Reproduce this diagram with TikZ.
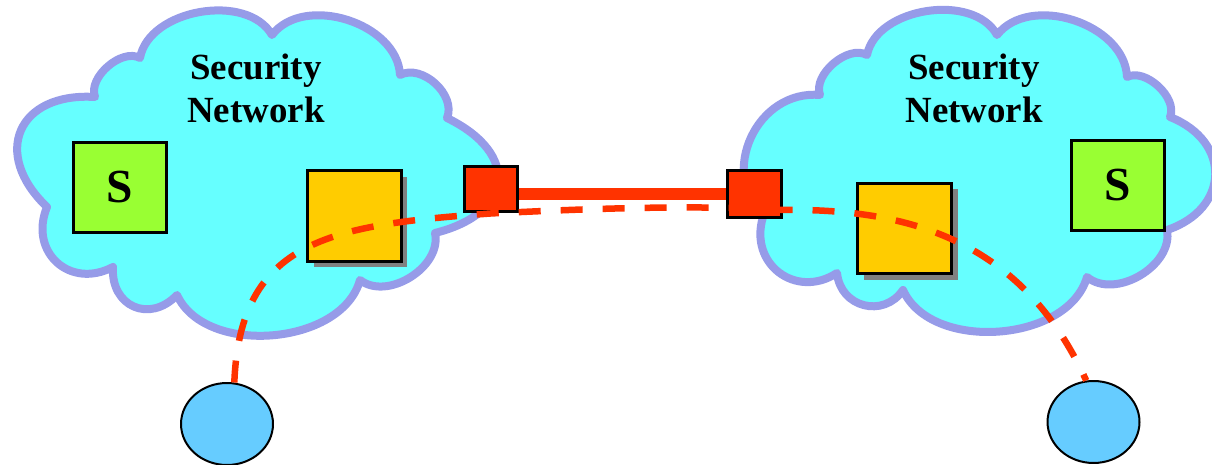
\documentclass[tikz,border=0pt]{standalone}
\usepackage{fontspec}
\setmainfont{Liberation Serif}
\usetikzlibrary{shapes.geometric,shadows,backgrounds}

\definecolor{cloudcyan}{HTML}{66FFFF}
\definecolor{cloudrim}{RGB}{150,155,232}
\definecolor{srvgreen}{HTML}{99FF33}
\definecolor{agentyellow}{HTML}{FFCC00}
\definecolor{gwred}{HTML}{FF3300}
\definecolor{hostblue}{HTML}{66CCFF}

\begin{document}
\begin{tikzpicture}[x=0.02cm,y=-0.02cm,
  puff/.style={bend left=70,looseness=#1}]
\tikzstyle{every node}=[font=\bfseries]
\tikzstyle{cloud line}=[draw=cloudrim, line width=0.16cm, fill=cloudcyan, line join=round]
\tikzstyle{title}=[align=center, font=\fontsize{21}{24.4}\selectfont\bfseries]
\tikzstyle{server}=[draw, line width=0.06cm, fill=srvgreen, inner sep=0pt,
  minimum width=1.86cm, minimum height=1.8cm, font=\fontsize{27}{30}\selectfont\bfseries]
\tikzstyle{agent}=[draw, line width=0.06cm, fill=agentyellow, inner sep=0pt,
  minimum width=1.88cm, minimum height=1.82cm,
  drop shadow={shadow xshift=0.12cm, shadow yshift=-0.12cm, fill=gray, opacity=1}]
\tikzstyle{gateway}=[draw, line width=0.06cm, fill=gwred, inner sep=0pt]
\tikzstyle{host}=[ellipse, draw, line width=0.04cm, fill=hostblue, inner sep=0pt,
  minimum width=1.84cm, minimum height=1.64cm]
\tikzstyle{link}=[gwred, line width=0.24cm]
\tikzstyle{tunnel}=[gwred, line width=0.13cm, dash pattern=on 0.44cm off 0.4cm]

\useasboundingbox (0,0) rectangle (1212,465);

\node[title] (titleL) at (256,88) {Security\\Network};
\node[title] (titleR) at (974,88) {Security\\Network};

\node[server] (srvL) at (120,187.5) {S};
\node[server] (srvR) at (1118,185.5) {S};
\node[agent] (agtL) at (354.5,216) {};
\node[agent] (agtR) at (904.5,228.5) {};
\node[gateway, minimum width=1.06cm, minimum height=0.92cm] (gwL) at (490.5,189) {};
\node[gateway, minimum width=1.08cm, minimum height=0.96cm] (gwR) at (754,194) {};
\node[host] (host1) at (227,424) {};
\node[host] (host2) at (1093.5,422) {};
\coordinate (bend) at (780,210);

\begin{pgfonlayer}{background}
\draw[cloud line] (47,207) to[puff=1.65] (95,97) to[puff=0.9] (140,58)
  to[puff=0.95] (272,35) to[puff=1.0] (400,75) to[puff=1.0] (447,118)
  to[puff=1.8] (435,233) to[puff=1.0] (360,280) to[puff=0.95] (177,295)
  to[puff=1.45] (113,267) to[puff=1.4] (47,207) -- cycle;
\draw[cloud line] (763,217) to[puff=1.2] (820,95) to[puff=0.9] (867,55)
  to[puff=0.95] (997,35) to[puff=1.0] (1127,77) to[puff=0.9] (1170,117)
  to[puff=1.5] (1167,230) to[puff=1.0] (1087,277) to[puff=0.95] (903,290)
  to[puff=1.3] (837,273) to[puff=1.35] (763,217) -- cycle;
\draw[link] (gwR.center) -- (gwR.center -| gwL.east);
\end{pgfonlayer}

\draw[tunnel] (host1.80) .. controls (240,240) and (330,225) .. (gwL.south)
  .. controls (600,208) and (700,205) .. (bend)
  .. controls (900,208) and (1020,235) .. (host2.100);

\end{tikzpicture}
\end{document}
